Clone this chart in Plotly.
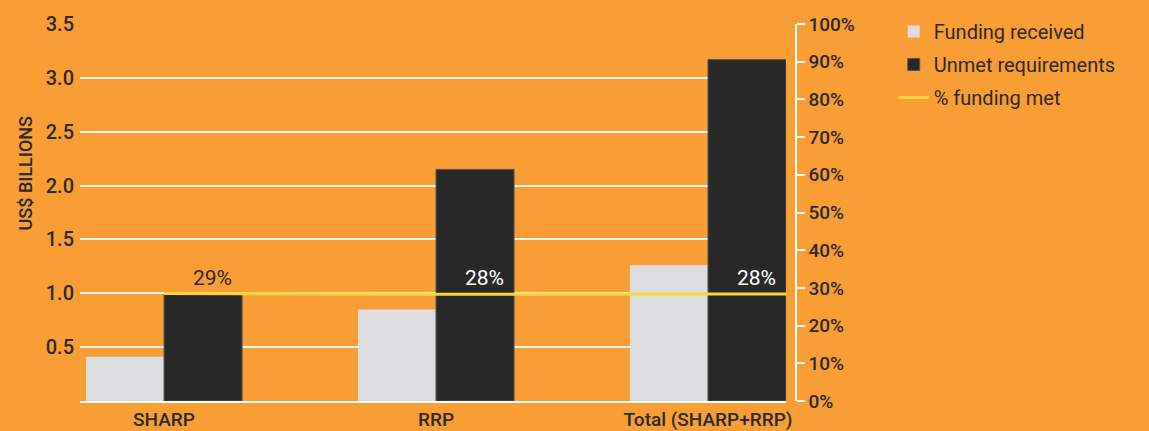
import plotly.graph_objects as go

categories = ["SHARP", "RRP", "Total (SHARP+RRP)"]
funding_received = [0.41, 0.85, 1.26]
unmet_requirements = [0.99, 2.15, 3.17]
pct_funding_met = [28.5, 28.3, 28.4]
pct_labels = ["29%", "28%", "28%"]
left_ticks = [0.5, 1.0, 1.5, 2.0, 2.5, 3.0, 3.5]
right_ticks = list(range(0, 101, 10))

ORANGE = "#F99E34"
LIGHT = "#DCDDDE"
DARK = "#282828"
YELLOW = "#FDD33A"
TEXT = "#2B2B2B"
FONT = "Roboto"

x_idx = list(range(len(categories)))
x_range = [-0.309, 2.287]

fig = go.Figure()
fig.add_trace(go.Bar(
    x=x_idx, y=funding_received, name="Funding received", legendgroup="a",
    marker=dict(color=LIGHT, line=dict(width=0)),
))
fig.add_trace(go.Bar(
    x=x_idx, y=unmet_requirements, name="Unmet requirements", legendgroup="b",
    marker=dict(color=DARK, line=dict(color="#555555", width=1)),
))
fig.add_trace(go.Scatter(
    x=x_idx + [x_range[1]], y=pct_funding_met + [pct_funding_met[-1]],
    name="% funding met", mode="lines", yaxis="y2", legendgroup="c",
    line=dict(color=YELLOW, width=3),
))

dark_offset = 0.143
for i, (v, lab) in enumerate(zip(pct_funding_met, pct_labels)):
    above_bar = unmet_requirements[i] < v / 100 * 3.5 + 0.02
    fig.add_annotation(
        x=i + dark_offset + 0.035, y=v, yref="y2", text=lab, showarrow=False,
        yanchor="bottom", yshift=2,
        font=dict(family=FONT, size=21, color=TEXT if above_bar else "white"),
    )

fig.add_annotation(
    x=-0.063, xref="paper", y=0.605, yref="paper", text="US$ BILLIONS",
    textangle=-90, showarrow=False,
    font=dict(family=FONT, size=18, color=TEXT, weight=500),
)

tickfont = dict(family=FONT, size=19, color=TEXT, weight=500)

fig.update_layout(
    width=1149, height=431,
    paper_bgcolor=ORANGE, plot_bgcolor=ORANGE,
    margin=dict(l=80, r=0, t=24, b=30),
    barmode="group", bargap=0.426, bargroupgap=0,
    font=dict(family=FONT, color=TEXT, size=18),
    showlegend=True,
    legend=dict(
        x=0.7655, y=1.032, xanchor="left", yanchor="top",
        bgcolor="rgba(0,0,0,0)", font=dict(family=FONT, size=20, color=TEXT),
        tracegroupgap=4, traceorder="grouped",
    ),
    xaxis=dict(
        domain=[0, 0.6642], range=x_range,
        tickvals=x_idx, ticktext=categories,
        showline=True, linecolor="white", linewidth=1.5,
        showgrid=False, ticks="", zeroline=False,
        tickfont=tickfont,
    ),
    yaxis=dict(
        range=[0, 3.5], tickvals=left_ticks, ticktext=[f"{v:.1f}" for v in left_ticks],
        showgrid=True, gridcolor="rgba(255,255,255,0.9)", gridwidth=1.5,
        zeroline=False, showline=False, ticks="", ticklabelstandoff=5,
        tickfont=dict(family=FONT, size=20, color=TEXT, weight=500),
    ),
    yaxis2=dict(
        overlaying="y", side="right", anchor="free", position=0.6735,
        range=[0, 100], tickvals=right_ticks, ticktext=[f"{v}%" for v in right_ticks],
        showgrid=False, zeroline=False,
        showline=True, linecolor="white", linewidth=1.5,
        ticks="outside", ticklen=8, tickcolor="white", tickwidth=1.5,
        tickfont=tickfont,
    ),
)

fig.write_html(
    "out.html",
    config={"displayModeBar": False},
    post_script="document.body.style.margin='0';",
)
